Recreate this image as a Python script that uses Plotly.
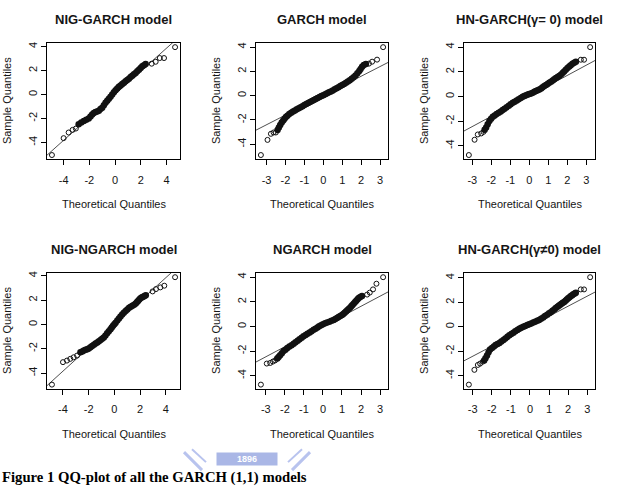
import plotly.graph_objects as go

# ---------------- data ----------------
titles = ["NIG-GARCH model", "GARCH model", "HN-GARCH(γ= 0) model",
          "NIG-NGARCH model", "NGARCH model", "HN-GARCH(γ≠0) model"]
x_label = "Theoretical Quantiles"
y_label = "Sample Quantiles"
caption = "Figure 1 QQ-plot of all the GARCH (1,1) models"

xticks_nig = [-4, -2, 0, 2, 4]
xticks_norm = [-3, -2, -1, 0, 1, 2, 3]
yticks = [-4, -2, 0, 2, 4]

# qqline (intercept, slope) per panel
qq_intercept = [0.02, 0.0, 0.05, 0.0, 0.0, 0.05]
qq_slope = [0.96, 0.80, 0.83, 0.96, 0.82, 0.82]

# Panel 1: NIG-GARCH
p1_tail_x = [-4.91, -4.0, -3.61, -3.3, -3.05, 2.85, 3.16, 3.48, 3.81, 4.67]
p1_tail_y = [-5.05, -3.64, -3.17, -2.95, -2.84, 2.57, 2.73, 3.04, 3.04, 3.95]
p1_band_x = [-2.83, -2.63, -2.43, -2.24, -2.05, -1.91, -1.78, -1.65, -1.52, -1.39, -1.26, -1.13,
             -1.0, -0.87, -0.74, -0.61, -0.48, -0.35, -0.22, -0.09, 0.04, 0.17, 0.3, 0.43, 0.56,
             0.69, 0.82, 0.95, 1.08, 1.21, 1.34, 1.47, 1.6, 1.73, 1.86, 1.99, 2.12, 2.25, 2.38]
p1_band_y = [-2.48, -2.34, -2.21, -2.1, -2.0, -1.83, -1.66, -1.55, -1.46, -1.41, -1.35, -1.22,
             -1.1, -0.9, -0.69, -0.52, -0.36, -0.18, 0.0, 0.18, 0.36, 0.5, 0.64, 0.76, 0.88,
             0.99, 1.1, 1.21, 1.32, 1.45, 1.57, 1.68, 1.79, 1.93, 2.07, 2.21, 2.35, 2.45, 2.54]

# Panel 2: GARCH
p2_tail_x = [-3.30, -2.95, -2.77, -2.63, -2.51, 2.41, 2.58, 2.84, 3.16]
p2_tail_y = [-4.90, -3.65, -3.15, -3.04, -3.04, 2.64, 2.8, 2.97, 4.0]
p2_band_x = [-2.42, -2.35, -2.28, -2.2, -2.12, -2.05, -1.98, -1.9, -1.8, -1.7, -1.6, -1.5, -1.4,
             -1.3, -1.2, -1.1, -1.0, -0.9, -0.8, -0.7, -0.6, -0.5, -0.4, -0.3, -0.2, -0.1, 0.0,
             0.1, 0.2, 0.3, 0.4, 0.5, 0.6, 0.7, 0.8, 0.9, 1.0, 1.1, 1.2, 1.3, 1.4, 1.5, 1.6,
             1.7, 1.8, 1.9, 1.97, 2.05, 2.14, 2.25]
p2_band_y = [-2.83, -2.62, -2.42, -2.22, -2.05, -1.9, -1.76, -1.65, -1.52, -1.41, -1.31, -1.22,
             -1.13, -1.05, -0.96, -0.87, -0.78, -0.70, -0.61, -0.52, -0.44, -0.36, -0.28, -0.2,
             -0.12, -0.04, 0.04, 0.11, 0.19, 0.27, 0.35, 0.43, 0.52, 0.61, 0.7, 0.79, 0.88, 0.97,
             1.06, 1.16, 1.27, 1.39, 1.52, 1.67, 1.85, 2.03, 2.2, 2.38, 2.53, 2.6]

# Panel 3: HN-GARCH (gamma = 0)
p3_tail_x = [-3.18, -2.88, -2.71, -2.53, -2.41, 2.71, 2.88, 3.2]
p3_tail_y = [-4.75, -3.51, -3.08, -3.0, -2.87, 2.98, 2.98, 4.0]
p3_band_x = [-2.35, -2.27, -2.19, -2.1, -2.01, -1.92, -1.82, -1.72, -1.61, -1.5, -1.4, -1.3,
             -1.19, -1.08, -0.98, -0.87, -0.77, -0.66, -0.56, -0.45, -0.35, -0.26, -0.17, -0.08,
             0.0, 0.09, 0.18, 0.27, 0.35, 0.44, 0.53, 0.62, 0.7, 0.79, 0.88, 0.96, 1.05, 1.14,
             1.23, 1.31, 1.4, 1.49, 1.57, 1.66, 1.75, 1.83, 1.92, 2.01, 2.1, 2.18, 2.27, 2.36, 2.45]
p3_band_y = [-2.7, -2.52, -2.25, -1.99, -1.81, -1.64, -1.54, -1.43, -1.32, -1.21, -1.1, -0.99,
             -0.87, -0.75, -0.63, -0.51, -0.42, -0.32, -0.22, -0.13, -0.03, 0.04, 0.1, 0.16,
             0.2, 0.24, 0.31, 0.38, 0.44, 0.5, 0.56, 0.65, 0.74, 0.84, 0.93, 1.02, 1.11, 1.2,
             1.3, 1.39, 1.5, 1.58, 1.67, 1.76, 1.9, 2.03, 2.17, 2.31, 2.43, 2.54, 2.65, 2.73, 2.82]

# Panel 4: NIG-NGARCH
p4_tail_x = [-4.86, -4.0, -3.69, -3.43, -3.17, -2.9, 2.98, 3.24, 3.58, 3.89, 4.73]
p4_tail_y = [-4.95, -3.1, -2.97, -2.83, -2.7, -2.56, 2.72, 2.91, 3.05, 3.19, 3.89]
p4_band_x = [-2.64, -2.5, -2.37, -2.24, -2.11, -1.99, -1.86, -1.73, -1.59, -1.46, -1.33, -1.2,
             -1.07, -0.95, -0.82, -0.69, -0.56, -0.43, -0.3, -0.2, -0.1, 0.0, 0.1, 0.23, 0.36,
             0.48, 0.61, 0.74, 0.88, 1.01, 1.15, 1.28, 1.41, 1.54, 1.67, 1.77, 1.86, 1.96, 2.06,
             2.16, 2.25, 2.35, 2.45]
p4_band_y = [-2.29, -2.22, -2.15, -2.09, -2.03, -1.97, -1.87, -1.77, -1.67, -1.57, -1.48, -1.38,
             -1.27, -1.17, -1.07, -0.9, -0.73, -0.56, -0.39, -0.25, -0.11, 0.02, 0.15, 0.32, 0.49,
             0.66, 0.83, 0.96, 1.1, 1.23, 1.37, 1.46, 1.54, 1.63, 1.72, 1.84, 1.95, 2.07, 2.18,
             2.24, 2.29, 2.35, 2.4]

# Panel 5: NGARCH
p5_tail_x = [-3.26, -2.95, -2.77, -2.63, -2.51, 2.32, 2.46, 2.63, 2.81, 3.16]
p5_tail_y = [-4.72, -3.01, -2.96, -2.85, -2.75, 2.59, 2.75, 3.01, 3.47, 4.0]
p5_band_x = [-2.4, -2.33, -2.25, -2.16, -2.07, -1.97, -1.87, -1.76, -1.65, -1.54, -1.44, -1.33,
             -1.23, -1.12, -1.02, -0.91, -0.81, -0.7, -0.6, -0.49, -0.39, -0.29, -0.2, -0.1, 0.0,
             0.11, 0.22, 0.34, 0.45, 0.56, 0.65, 0.74, 0.82, 0.91, 1.0, 1.07, 1.14, 1.21, 1.28,
             1.35, 1.42, 1.49, 1.55, 1.62, 1.69, 1.75, 1.82, 1.88, 1.96, 2.05]
p5_band_y = [-2.6, -2.48, -2.33, -2.17, -2.0, -1.88, -1.75, -1.63, -1.52, -1.41, -1.29, -1.16,
             -1.04, -0.92, -0.8, -0.7, -0.6, -0.49, -0.38, -0.27, -0.18, -0.09, 0.01, 0.1, 0.19,
             0.26, 0.32, 0.39, 0.46, 0.53, 0.6, 0.68, 0.77, 0.85, 0.93, 1.02, 1.11, 1.21, 1.31,
             1.41, 1.52, 1.64, 1.75, 1.87, 1.98, 2.09, 2.2, 2.32, 2.4, 2.48]

# Panel 6: HN-GARCH (gamma != 0)
p6_tail_x = [-3.2, -2.91, -2.73, -2.61, -2.47, 2.66, 2.83, 3.15]
p6_tail_y = [-4.73, -3.52, -3.12, -3.01, -2.85, 3.06, 3.06, 4.06]
p6_band_x = [-2.4, -2.33, -2.25, -2.17, -2.09, -1.99, -1.89, -1.8, -1.7, -1.6, -1.5, -1.39,
             -1.29, -1.18, -1.08, -0.98, -0.87, -0.77, -0.66, -0.56, -0.46, -0.35, -0.25, -0.14,
             -0.04, 0.06, 0.17, 0.27, 0.38, 0.48, 0.58, 0.69, 0.79, 0.9, 1.0, 1.09, 1.18, 1.27,
             1.35, 1.44, 1.51, 1.58, 1.65, 1.72, 1.79, 1.86, 1.93, 2.0, 2.07, 2.14, 2.21, 2.27,
             2.34, 2.4]
p6_band_y = [-2.75, -2.58, -2.34, -2.09, -1.85, -1.73, -1.61, -1.49, -1.4, -1.32, -1.2, -1.07,
             -0.95, -0.82, -0.7, -0.59, -0.48, -0.37, -0.27, -0.16, -0.08, 0.0, 0.07, 0.14,
             0.21, 0.28, 0.35, 0.42, 0.49, 0.56, 0.66, 0.77, 0.88, 0.99, 1.1, 1.2, 1.31, 1.42,
             1.53, 1.64, 1.72, 1.8, 1.88, 1.96, 2.04, 2.13, 2.23, 2.33, 2.42, 2.52, 2.59, 2.66,
             2.73, 2.79]

panels = [
    (p1_tail_x, p1_tail_y, p1_band_x, p1_band_y, xticks_nig),
    (p2_tail_x, p2_tail_y, p2_band_x, p2_band_y, xticks_norm),
    (p3_tail_x, p3_tail_y, p3_band_x, p3_band_y, xticks_norm),
    (p4_tail_x, p4_tail_y, p4_band_x, p4_band_y, xticks_nig),
    (p5_tail_x, p5_tail_y, p5_band_x, p5_band_y, xticks_norm),
    (p6_tail_x, p6_tail_y, p6_band_x, p6_band_y, xticks_norm),
]

# ---------------- layout geometry ----------------
W, H = 618, 492
col_px = [(47, 180), (256, 388), (464, 595)]
row_px = [(41, 158), (272, 388.5)]
FONT = "Liberation Sans, Arial, sans-serif"
TXT = "#151515"


def r_range(v):
    lo, hi = min(v), max(v)
    d = (hi - lo) * 0.04
    return [lo - d, hi + d]


fig = go.Figure()
annotations = []
for i, (tx, ty, bx, by, xt) in enumerate(panels):
    r, c = divmod(i, 3)
    suf = "" if i == 0 else str(i + 1)
    xa, ya = "x" + suf, "y" + suf
    xr = r_range(tx + bx)
    yr = r_range(ty + by)
    a, b = qq_intercept[i], qq_slope[i]
    # reference line (qqline) across the panel
    fig.add_trace(go.Scatter(x=[xr[0], xr[1]], y=[a + b * xr[0], a + b * xr[1]],
                             mode="lines", line=dict(color="#222", width=0.8),
                             xaxis=xa, yaxis=ya, showlegend=False, hoverinfo="skip"))
    # dense body of points (overlapping open circles look solid)
    fig.add_trace(go.Scatter(x=bx, y=by, mode="markers",
                             marker=dict(symbol="circle", size=6.5, color="#111",
                                         line=dict(width=0)),
                             xaxis=xa, yaxis=ya, showlegend=False, cliponaxis=True))
    # sparse tail points
    fig.add_trace(go.Scatter(x=tx, y=ty, mode="markers",
                             marker=dict(symbol="circle-open", size=5, color="#111",
                                         line=dict(width=1)),
                             xaxis=xa, yaxis=ya, showlegend=False, cliponaxis=False))

    c0, c1 = col_px[c]
    r0, r1 = row_px[r]
    common = dict(showline=True, mirror=True, linecolor="black", linewidth=1,
                  ticks="outside", ticklen=5, tickwidth=1, tickcolor="black",
                  showgrid=False, zeroline=False,
                  tickfont=dict(family=FONT, size=11, color=TXT))
    fig.layout["xaxis" + suf] = dict(domain=[c0 / W, c1 / W], range=xr, anchor=ya,
                                     tickvals=xt, ticktext=[str(v) for v in xt],
                                     ticklabelstandoff=5, **common)
    fig.layout["yaxis" + suf] = dict(domain=[1 - r1 / H, 1 - r0 / H], range=yr, anchor=xa,
                                     tickvals=yticks, ticktext=[str(v) for v in yticks],
                                     tickangle=-90, **common)
    cx = (c0 + c1) / 2
    annotations.append(dict(text="<b>%s</b>" % titles[i], x=cx / W, y=1 - (r0 - 23) / H,
                            xref="paper", yref="paper", showarrow=False,
                            xanchor="center", yanchor="middle",
                            font=dict(family=FONT, size=13, color=TXT)))
    annotations.append(dict(text=x_label, x=cx / W, y=1 - (r1 + 45) / H,
                            xref="paper", yref="paper", showarrow=False,
                            xanchor="center", yanchor="middle",
                            font=dict(family=FONT, size=11, color=TXT)))
    annotations.append(dict(text=y_label, x=(c0 - 40) / W, y=1 - ((r0 + r1) / 2) / H,
                            xref="paper", yref="paper", showarrow=False, textangle=-90,
                            xanchor="center", yanchor="middle",
                            font=dict(family=FONT, size=11, color=TXT)))

# caption
annotations.append(dict(text="<b>%s</b>" % caption, x=0, y=1 - 477.5 / H,
                        xref="paper", yref="paper", showarrow=False,
                        xanchor="left", yanchor="middle",
                        font=dict(family="Liberation Serif, Times New Roman, serif",
                                  size=14.7, color="black")))
# faint watermark (university logo behind the caption)
annotations.append(dict(text="<b>1896</b>", x=247 / W, y=1 - 459 / H,
                        xref="paper", yref="paper", showarrow=False,
                        xanchor="center", yanchor="middle", bgcolor="#aab7e6",
                        borderpad=1, width=58,
                        font=dict(family=FONT, size=9, color="white")))
wm = "#b8c3ee"
shapes = [
    dict(type="line", xref="paper", yref="paper", x0=184 / W, y0=1 - 452 / H,
         x1=202 / W, y1=1 - 470 / H, line=dict(color=wm, width=3)),
    dict(type="line", xref="paper", yref="paper", x0=192 / W, y0=1 - 449 / H,
         x1=206 / W, y1=1 - 462 / H, line=dict(color=wm, width=2)),
    dict(type="line", xref="paper", yref="paper", x0=310 / W, y0=1 - 452 / H,
         x1=292 / W, y1=1 - 470 / H, line=dict(color=wm, width=3)),
    dict(type="line", xref="paper", yref="paper", x0=302 / W, y0=1 - 449 / H,
         x1=288 / W, y1=1 - 462 / H, line=dict(color=wm, width=2)),
]

fig.update_layout(width=W, height=H, margin=dict(l=0, r=0, t=0, b=0),
                  paper_bgcolor="white", plot_bgcolor="white",
                  annotations=annotations, shapes=shapes, showlegend=False)

fig.write_html("out.html")
